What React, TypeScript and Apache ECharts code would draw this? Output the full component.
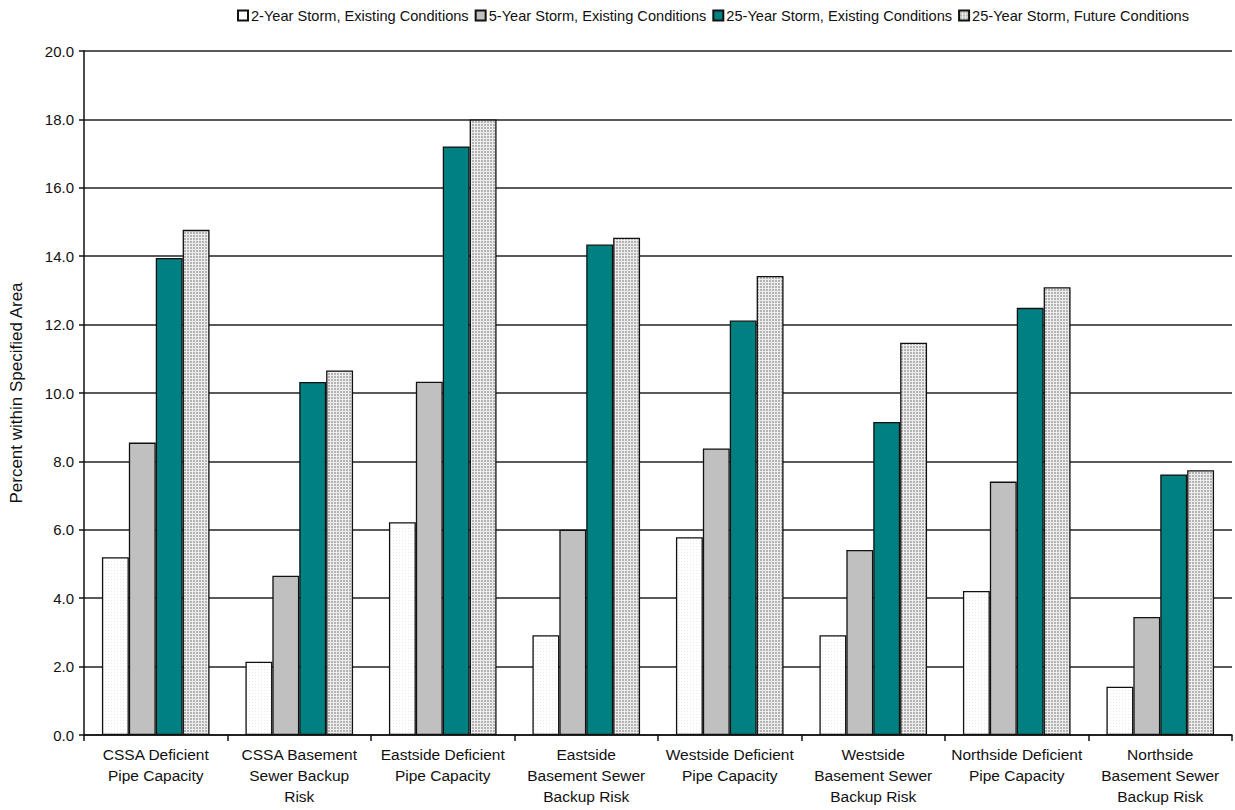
import React, { useEffect, useRef } from "react";
import * as echarts from "echarts";

const categories = [
  "CSSA Deficient\nPipe Capacity",
  "CSSA Basement\nSewer Backup\nRisk",
  "Eastside Deficient\nPipe Capacity",
  "Eastside\nBasement Sewer\nBackup Risk",
  "Westside Deficient\nPipe Capacity",
  "Westside\nBasement Sewer\nBackup Risk",
  "Northside Deficient\nPipe Capacity",
  "Northside\nBasement Sewer\nBackup Risk",
];

const seriesNames = [
  "2-Year Storm, Existing Conditions",
  "5-Year Storm, Existing Conditions",
  "25-Year Storm, Existing Conditions",
  "25-Year Storm, Future Conditions",
];

const storm2Existing = [5.2, 2.14, 6.22, 2.92, 5.78, 2.92, 4.21, 1.41];
const storm5Existing = [8.55, 4.66, 10.33, 6.0, 8.38, 5.41, 7.41, 3.45];
const storm25Existing = [13.95, 10.32, 17.21, 14.34, 12.12, 9.15, 12.49, 7.62];
const storm25Future = [14.77, 10.66, 18.0, 14.54, 13.42, 11.47, 13.09, 7.74];

const yTicks = { min: 0, max: 20, interval: 2 };

function makePattern(bg: string, line: string, size: number, mode: "grid" | "dot") {
  const c = document.createElement("canvas");
  c.width = size;
  c.height = size;
  const ctx = c.getContext("2d")!;
  ctx.fillStyle = bg;
  ctx.fillRect(0, 0, size, size);
  ctx.fillStyle = line;
  if (mode === "grid") {
    ctx.fillRect(0, 0, size, 1);
    ctx.fillRect(0, 0, 1, size);
  } else {
    ctx.fillRect(0, 0, 1, 1);
  }
  return {
    image: c.toDataURL(),
    repeat: "repeat",
    imageWidth: size,
    imageHeight: size,
  } as any;
}

export default function App() {
  const ref = useRef<HTMLDivElement>(null);

  useEffect(() => {
    if (!ref.current) return;
    const chart = echarts.init(ref.current, null, { renderer: "svg" });
    const whitePat = makePattern("#ffffff", "#ebebeb", 3, "dot");
    const checkPat = makePattern("#b4b4b4", "#ececec", 3, "grid");
    const fills = [whitePat, "#c0c0c0", "#008080", checkPat];
    const data = [storm2Existing, storm5Existing, storm25Existing, storm25Future];
    const font = "'Liberation Sans', Arial, sans-serif";

    chart.setOption({
      animation: false,
      backgroundColor: "#ffffff",
      textStyle: { fontFamily: font },
      legend: {
        left: 237,
        top: 8,
        padding: 0,
        itemWidth: 10,
        itemHeight: 10,
        itemGap: 6,
        icon: "rect",
        textStyle: { fontSize: 14.6, color: "#111", fontFamily: font, padding: [0, 0, 0, -2] },
        data: seriesNames,
      },
      grid: { left: 79, right: 3, top: 51, bottom: 75, containLabel: false },
      xAxis: {
        type: "category",
        data: categories,
        axisLine: { lineStyle: { color: "#111", width: 1.5 } },
        axisTick: { show: true, length: 6, interval: 0, lineStyle: { color: "#111", width: 1.5 } },
        axisLabel: {
          interval: 0,
          fontSize: 15.5,
          lineHeight: 21,
          color: "#111",
          margin: 9,
          fontFamily: font,
        },
      },
      yAxis: {
        type: "value",
        min: yTicks.min,
        max: yTicks.max,
        interval: yTicks.interval,
        name: "Percent within Specified Area",
        nameLocation: "middle",
        nameRotate: 90,
        nameGap: 59,
        nameTextStyle: { fontSize: 17, color: "#111", fontFamily: font },
        axisLine: { show: true, lineStyle: { color: "#111", width: 1.5 } },
        axisTick: { show: true, length: 5, lineStyle: { color: "#111", width: 1.5 } },
        axisLabel: {
          fontSize: 15,
          color: "#111",
          margin: 10,
          fontFamily: font,
          formatter: (v: number) => v.toFixed(1),
        },
        splitLine: { show: true, lineStyle: { color: "#222", width: 1.5 } },
      },
      series: seriesNames.map((name, i) => ({
        name,
        type: "bar",
        data: data[i],
        barGap: "0%",
        barCategoryGap: "25%",
        itemStyle: { color: fills[i], borderColor: "#111", borderWidth: 1.3 },
      })),
    });

    return () => chart.dispose();
  }, []);

  return (
    <div
      ref={ref}
      style={{ position: "absolute", left: 0, top: 0, width: 1235, height: 810, background: "#fff" }}
    />
  );
}
